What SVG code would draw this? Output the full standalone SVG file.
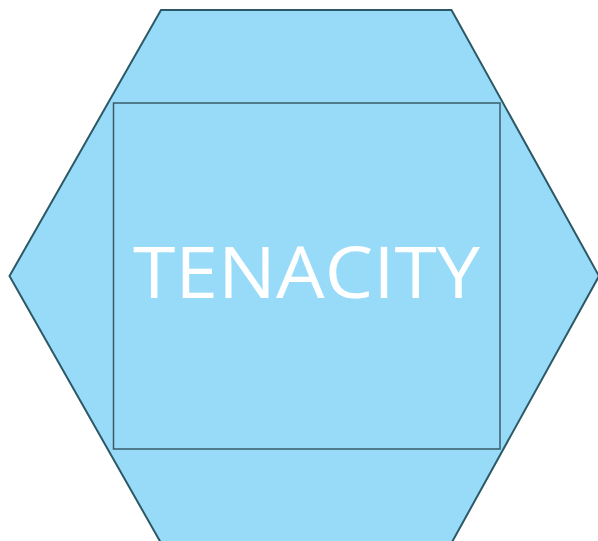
<svg xmlns="http://www.w3.org/2000/svg" width="598" height="541" viewBox="0 0 598 541">
<style>
.hex{fill:#97dbf9;stroke:#2d5966;stroke-width:2}
.box{fill:none;stroke:#395c67;stroke-width:1.5}
.lbl{font-family:"Open Sans","Noto Sans",sans-serif;font-size:72px;fill:#ffffff;text-anchor:middle}
</style>
<rect width="598" height="541" fill="#ffffff"/>
<g id="hexagon">
<polygon class="hex" points="161,10 451.5,10 599,276 451.5,543 161,543 9.5,276"/>
</g>
<g id="tenacity">
<rect class="box" x="113.5" y="103" width="386.5" height="346"/>
<text class="lbl" x="306.5" y="298" textLength="347" lengthAdjust="spacingAndGlyphs">TENACITY</text>
</g>
<g id="connectors"/>
</svg>
